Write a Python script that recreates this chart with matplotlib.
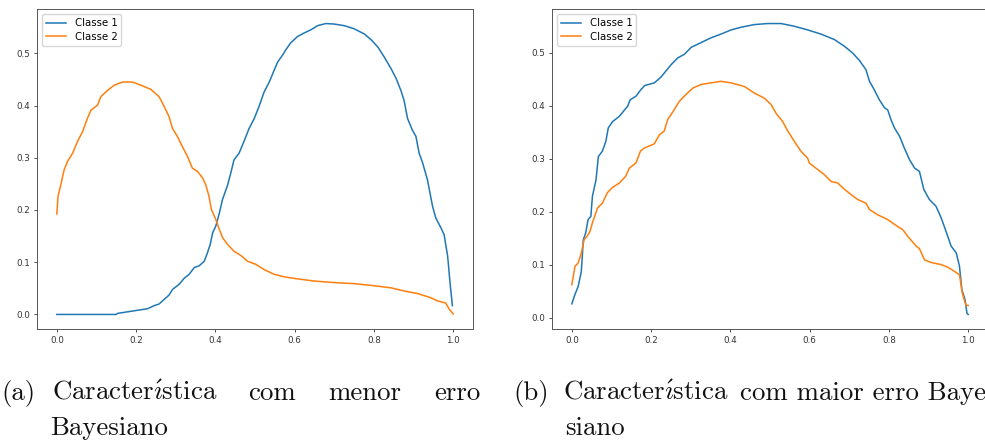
import matplotlib
matplotlib.use("Agg")
import matplotlib.pyplot as plt

plt.rcParams["mathtext.fontset"] = "cm"

# (a) feature with the lower Bayes error
a_x1 = [0.0, 0.15, 0.153, 0.195, 0.229, 0.246, 0.258, 0.271, 0.283, 0.292, 0.309, 0.321,
        0.334, 0.347, 0.359, 0.372, 0.380, 0.387, 0.393, 0.401, 0.410, 0.418, 0.431, 0.439,
        0.447, 0.460, 0.472, 0.485, 0.498, 0.510, 0.523, 0.536, 0.548, 0.557, 0.569, 0.578,
        0.590, 0.607, 0.624, 0.641, 0.658, 0.679, 0.700, 0.725, 0.750, 0.776, 0.793, 0.810,
        0.826, 0.843, 0.856, 0.868, 0.876, 0.885, 0.897, 0.906, 0.914, 0.923, 0.935, 0.948,
        0.956, 0.969, 0.977, 0.986, 0.992, 0.998]
a_y1 = [0.0, 0.0, 0.002, 0.007, 0.011, 0.017, 0.020, 0.029, 0.037, 0.048, 0.058, 0.069,
        0.077, 0.090, 0.093, 0.102, 0.118, 0.134, 0.156, 0.169, 0.194, 0.220, 0.248, 0.271,
        0.296, 0.309, 0.331, 0.356, 0.375, 0.398, 0.426, 0.445, 0.467, 0.483, 0.496, 0.507,
        0.520, 0.532, 0.539, 0.545, 0.553, 0.557, 0.556, 0.553, 0.547, 0.537, 0.526, 0.512,
        0.493, 0.471, 0.452, 0.429, 0.410, 0.375, 0.353, 0.341, 0.309, 0.290, 0.258, 0.207,
        0.185, 0.166, 0.153, 0.112, 0.061, 0.017]

a_x2 = [0.0, 0.003, 0.010, 0.0185, 0.027, 0.040, 0.052, 0.065, 0.077, 0.086, 0.103, 0.111,
        0.128, 0.145, 0.166, 0.191, 0.212, 0.237, 0.258, 0.271, 0.283, 0.292, 0.304, 0.317,
        0.330, 0.342, 0.355, 0.368, 0.376, 0.384, 0.390, 0.401, 0.410, 0.418, 0.431, 0.447,
        0.464, 0.481, 0.502, 0.523, 0.548, 0.574, 0.599, 0.649, 0.700, 0.750, 0.801, 0.843,
        0.876, 0.910, 0.944, 0.960, 0.981, 0.990, 1.0]
a_y2 = [0.1925, 0.226, 0.248, 0.277, 0.293, 0.309, 0.331, 0.350, 0.375, 0.391, 0.401, 0.417,
        0.429, 0.439, 0.445, 0.445, 0.439, 0.431, 0.417, 0.398, 0.379, 0.356, 0.341, 0.321,
        0.302, 0.280, 0.274, 0.261, 0.248, 0.226, 0.201, 0.182, 0.163, 0.147, 0.134, 0.121,
        0.113, 0.102, 0.096, 0.086, 0.077, 0.072, 0.069, 0.064, 0.061, 0.059, 0.055, 0.051,
        0.045, 0.040, 0.032, 0.026, 0.022, 0.010, 0.001]

# (b) feature with the higher Bayes error
b_x1 = [0.0, 0.0076, 0.016, 0.024, 0.029, 0.035, 0.041, 0.048, 0.052, 0.061, 0.067, 0.077,
        0.086, 0.092, 0.103, 0.120, 0.132, 0.141, 0.147, 0.162, 0.174, 0.184, 0.208, 0.225,
        0.237, 0.250, 0.267, 0.284, 0.301, 0.326, 0.351, 0.376, 0.402, 0.427, 0.460, 0.494,
        0.528, 0.561, 0.595, 0.629, 0.662, 0.688, 0.709, 0.726, 0.742, 0.751, 0.763, 0.776,
        0.789, 0.797, 0.805, 0.814, 0.827, 0.839, 0.852, 0.865, 0.877, 0.888, 0.902, 0.919,
        0.932, 0.944, 0.957, 0.970, 0.978, 0.984, 0.992, 0.997, 1.0]
b_y1 = [0.026, 0.043, 0.059, 0.087, 0.147, 0.160, 0.185, 0.191, 0.229, 0.260, 0.304, 0.314,
        0.333, 0.358, 0.370, 0.380, 0.391, 0.399, 0.411, 0.418, 0.430, 0.438, 0.443, 0.454,
        0.465, 0.477, 0.490, 0.497, 0.510, 0.519, 0.528, 0.535, 0.543, 0.548, 0.553, 0.555,
        0.555, 0.550, 0.543, 0.535, 0.525, 0.512, 0.499, 0.485, 0.468, 0.446, 0.430, 0.411,
        0.396, 0.392, 0.374, 0.358, 0.342, 0.320, 0.298, 0.282, 0.276, 0.242, 0.223, 0.210,
        0.188, 0.163, 0.135, 0.122, 0.097, 0.053, 0.034, 0.008, 0.006]

b_x2 = [0.0, 0.008, 0.016, 0.024, 0.031, 0.038, 0.046, 0.052, 0.065, 0.077, 0.090, 0.103,
        0.120, 0.136, 0.145, 0.162, 0.173, 0.183, 0.208, 0.221, 0.233, 0.242, 0.258, 0.271,
        0.288, 0.305, 0.326, 0.351, 0.376, 0.402, 0.436, 0.460, 0.486, 0.503, 0.515, 0.532,
        0.545, 0.561, 0.578, 0.595, 0.599, 0.616, 0.637, 0.654, 0.671, 0.688, 0.705, 0.721,
        0.742, 0.751, 0.772, 0.797, 0.822, 0.835, 0.848, 0.869, 0.877, 0.890, 0.907, 0.932,
        0.949, 0.966, 0.978, 0.985, 0.991, 0.995, 1.0]
b_y2 = [0.062, 0.097, 0.103, 0.122, 0.147, 0.153, 0.163, 0.179, 0.207, 0.216, 0.236, 0.246,
        0.254, 0.267, 0.282, 0.292, 0.314, 0.320, 0.328, 0.345, 0.352, 0.374, 0.392, 0.408,
        0.421, 0.433, 0.440, 0.443, 0.446, 0.443, 0.436, 0.424, 0.414, 0.402, 0.386, 0.370,
        0.352, 0.333, 0.314, 0.301, 0.292, 0.282, 0.270, 0.257, 0.254, 0.242, 0.232, 0.223,
        0.216, 0.204, 0.194, 0.185, 0.172, 0.166, 0.153, 0.135, 0.130, 0.109, 0.104, 0.100,
        0.095, 0.087, 0.081, 0.047, 0.031, 0.023, 0.023]

labels = ["Classe 1", "Classe 2"]

# LaTeX-style subfigure captions (text, x pixel, line); the accented i is drawn with mathtext
carac = r"Caracter$\acute{\imath}$stica"
caption_a = [("(a)", 1, 0), (carac, 52, 0), ("com", 248, 0), ("menor", 328, 0),
             ("erro", 434, 0), ("Bayesiano", 50, 1)]
caption_b = [("(b)", 513, 0), (carac, 563, 0), ("com maior erro Baye", 740, 0),
             ("siano", 565, 1)]

W, H = 985, 441
fig = plt.figure(figsize=(W / 100, H / 100), dpi=100)

ax_w, ax_h = 436 / W, 320 / H
ax_a = fig.add_axes([37 / W, 1 - 329 / H, ax_w, ax_h])
ax_b = fig.add_axes([552 / W, 1 - 329 / H, ax_w, ax_h])

for ax, (x1, y1, x2, y2) in [(ax_a, (a_x1, a_y1, a_x2, a_y2)),
                             (ax_b, (b_x1, b_y1, b_x2, b_y2))]:
    ax.plot(x1, y1, color="#1f77b4", lw=1.1, label=labels[0])
    ax.plot(x2, y2, color="#ff7f0e", lw=1.1, label=labels[1])
    ax.set_xticks([0.0, 0.2, 0.4, 0.6, 0.8, 1.0])
    ax.set_yticks([0.0, 0.1, 0.2, 0.3, 0.4, 0.5])
    ax.tick_params(labelsize=6.3, length=2.5, width=0.6, pad=2.5, colors="#333333")
    for s in ax.spines.values():
        s.set_linewidth(0.7)
        s.set_color("#555555")
    ax.legend(loc="upper left", fontsize=7.3, handlelength=2.0, borderpad=0.4,
              labelspacing=0.35, handletextpad=0.8, borderaxespad=0.5)

for words in (caption_a, caption_b):
    for word, xp, line in words:
        yp = 400 + 35 * line
        fig.text(xp / W, 1 - yp / H, word, fontsize=19.3, family="cmr10",
                 ha="left", va="baseline", color="#111111")

fig.savefig("out.png", dpi=100)
